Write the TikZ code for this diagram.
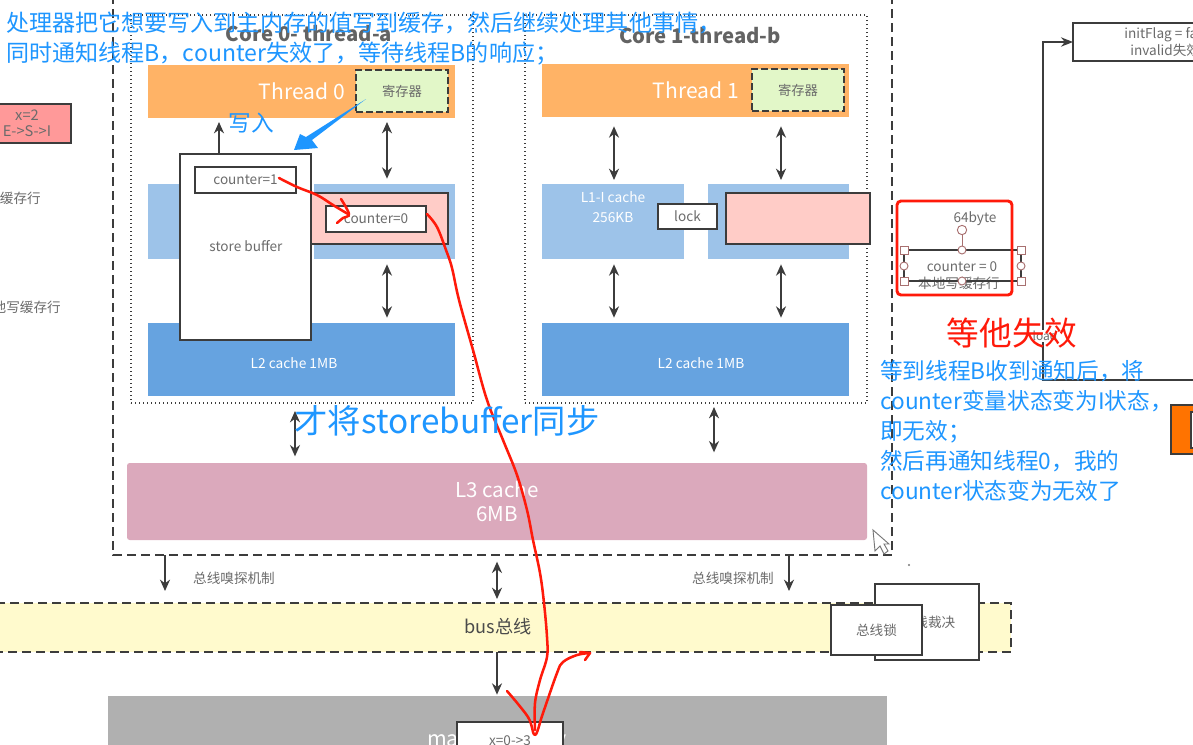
\documentclass[tikz,border=0pt]{standalone}
\usepackage{fontspec}
\setmainfont{Noto Sans CJK SC}
\usetikzlibrary{arrows.meta,calc}
\definecolor{grayt}{HTML}{6B6B6B}
\definecolor{dk}{HTML}{3C3C3C}
\definecolor{orangeb}{HTML}{FFB366}
\definecolor{greenb}{HTML}{E2F7C8}
\definecolor{blue1}{HTML}{9DC3E9}
\definecolor{blue2}{HTML}{66A3E0}
\definecolor{pinkb}{HTML}{FFCCC7}
\definecolor{rose}{HTML}{DBA9BC}
\definecolor{busy}{HTML}{FFFACD}
\definecolor{memg}{HTML}{B0B0B0}
\definecolor{inkb}{HTML}{1E96FF}
\definecolor{inkr}{HTML}{FF1A0A}
\definecolor{handle}{HTML}{A87070}
\newcommand{\fs}[1]{\fontsize{#1}{#1}\selectfont}
% name, x1,y1,x2,y2, style, text
\newcommand{\bx}[7]{\node[inner sep=0pt,outer sep=0pt,align=center,minimum width={(#4-#2)*0.75pt},minimum height={(#5-#3)*0.75pt},#6] (#1) at ({(#2+#4)/2},{(#3+#5)/2}) {#7};}
\tikzset{
  solidbox/.style={draw=dk,line width=1.3pt,fill=white,text=grayt,font=\fs{10.2}},
  regbox/.style={draw=dk,line width=1.4pt,dash pattern=on 5pt off 2.5pt,fill=greenb,text=grayt,font=\fs{10}},
  corebox/.style={draw=dk,line width=1pt,dotted},
  outerline/.style={draw=dk,line width=1.3pt,dash pattern=on 6.5pt off 4pt},
  onehead/.style={draw=dk,line width=1.3pt,-{Stealth[length=8.5pt,width=7.5pt]}},
  twohead/.style={draw=dk,line width=1.3pt,{Stealth[length=8.5pt,width=7.5pt]}-{Stealth[length=8.5pt,width=7.5pt]}},
  lbl/.style={text=grayt,font=\fs{10.2},inner sep=0pt},
  whitel/.style={text=white,font=\fs{10.3},inner sep=0pt},
  redstroke/.style={draw=inkr,line width=1.9pt,line cap=round,line join=round},
  squareh/.style={draw=handle,fill=white,line width=.7pt,minimum size=6pt,inner sep=0pt},
  roundh/.style={draw=handle,fill=white,line width=.7pt,circle,minimum size=6pt,inner sep=0pt},
}
\begin{document}
\begin{tikzpicture}[x=0.75pt,y=-0.75pt]
\useasboundingbox (0,0) rectangle (1193,744);
\clip (0,0) rectangle (1193,744);
\fill[white] (0,0) rectangle (1193,744);
% columns for vertical connectors
\coordinate (cA) at (387,0);
\coordinate (cB) at (614,0);
\coordinate (cC) at (781,0);
\coordinate (cD) at (219,0);
\coordinate (cE) at (295,0);
\coordinate (cF) at (714,0);
\coordinate (cG) at (165,0);
\coordinate (cH) at (497,0);
\coordinate (cI) at (789,0);
% outer frame
\coordinate (oa) at (113,-5);
\coordinate (ob) at (892,-5);
\draw[outerline] (oa) -- (113,555) -- (892,555) -- (ob);
% left box and text
\bx{xbox}{-6}{104}{71}{143}{draw=dk,line width=1.3pt,fill=red!40!white}{}
\node[lbl,font=\fontsize{11}{12}\selectfont,align=center] (xtext) at (27,123) {x=2\\E->S->I};
\node[lbl,anchor=east] (lt1) at (41,198) {缓存行};
\node[lbl,anchor=east] (lt2) at (61,307) {他写缓存行};
% core boxes
\bx{core0}{131}{15}{473}{403}{corebox}{}
\bx{core1}{525}{15}{867}{403}{corebox}{}
\node[text=dk!80,font=\fs{15.2}\bfseries,inner sep=0pt] (t0title) at (309,34) {Core 0- thread-a};
\node[text=dk!80,font=\fs{15.2}\bfseries,inner sep=0pt] (t1title) at (700,36) {Core 1-thread-b};
% threads
\bx{t0}{148}{65}{455}{118}{fill=orangeb}{}
\node[text=white,font=\fs{15.8},inner sep=0pt] (t0l) at (302,91) {Thread 0};
\bx{r0}{356}{70}{448}{112}{regbox}{寄存器}
\bx{t1}{542}{64}{849}{117}{fill=orangeb}{}
\node[text=white,font=\fs{15.8},inner sep=0pt] (t1l) at (696,90) {Thread 1};
\bx{r1}{752}{69}{844}{111}{regbox}{寄存器}
% L1
\bx{l1a}{148}{184}{259}{259}{fill=blue1}{}
\bx{l1b}{314}{184}{455}{259}{fill=blue1}{}
\bx{l1c}{542}{184}{684}{259}{fill=blue1}{}
\node[whitel,align=center,font=\fontsize{10.3}{15}\selectfont] (l1cl) at (613,207) {L1-I cache\\256KB};
\bx{l1d}{708}{184}{849}{259}{fill=blue1}{}
\bx{pink0}{305}{193}{448}{244}{draw=dk,line width=1.3pt,fill=pinkb}{}
\bx{pink1}{726}{193}{870}{244}{draw=dk,line width=1.3pt,fill=pinkb}{}
\bx{lock}{658}{204}{717}{229}{solidbox}{lock}
\bx{c0}{326}{206}{426}{232}{solidbox}{counter=0}
% L2
\bx{l2a}{148}{323}{455}{396}{fill=blue2}{}
\node[whitel] (l2al) at (294,363) {L2 cache 1MB};
\bx{l2b}{542}{323}{849}{396}{fill=blue2}{}
\node[whitel] (l2bl) at (701,363) {L2 cache 1MB};
% store buffer
\bx{sb}{180}{154}{311}{340}{solidbox}{}
\node[lbl] (sbl) at (246,246) {store buffer};
\bx{c1}{195}{167}{296}{193}{solidbox}{counter=1}
% L3
\bx{l3}{127}{463}{867}{540}{fill=rose,rounded corners=2pt}{}
\node[text=white,inner sep=0pt,align=center,font=\fontsize{15.4}{18}\selectfont] (l3l) at (497,501) {L3 cache\\6MB};
% bus
\bx{bus}{-6}{603}{1011}{652}{fill=busy,draw=dk,line width=1.3pt,dash pattern=on 6.5pt off 4pt}{}
\node[text=grayt!70!black,font=\fs{13.6},inner sep=0pt] (busl) at (498,627) {bus总线};
\bx{arb}{875}{584}{979}{660}{solidbox}{}
\node[lbl,fill=white] (arbl) at (928,622) {总线裁决};
\bx{blk}{831}{605}{922}{655}{solidbox}{总线锁}
\node[lbl] (snl) at (234,578) {总线嗅探机制};
\node[lbl] (snr) at (733,578) {总线嗅探机制};
% memory
\bx{mem}{108}{696}{887}{760}{fill=memg}{}
\node[text=white,font=\fs{16},inner sep=0pt] (meml) at (497,741) {main memory};
\bx{mx}{457}{722}{563}{770}{solidbox}{}
\node[lbl] (mxl) at (510,741) {x=0->3};
% vertical connectors
\draw[onehead] (sb.north -| cD) -- ($(t0.south -| cD)+(0,4)$);
\draw[twohead,shorten <=3pt,shorten >=4pt] (t0.south -| cA) -- (l1b.north -| cA);
\draw[twohead,shorten <=4pt,shorten >=4pt] (l1b.south -| cA) -- (l2a.north -| cA);
\draw[twohead,shorten <=7pt,shorten >=3pt] (t1.south -| cB) -- (l1c.north -| cB);
\draw[twohead,shorten <=4pt,shorten >=4pt] (l1c.south -| cB) -- (l2b.north -| cB);
\draw[twohead,shorten <=7pt,shorten >=3pt] (t1.south -| cC) -- (l1d.north -| cC);
\draw[twohead,shorten <=4pt,shorten >=4pt] (l1d.south -| cC) -- (l2b.north -| cC);
\draw[twohead,shorten <=6pt,shorten >=5pt] (core0.south -| cE) -- (l3.north -| cE);
\draw[twohead,shorten <=3pt,shorten >=8pt] (core1.south -| cF) -- (l3.north -| cF);
\coordinate (fb) at (113,555);
\draw[onehead,shorten >=9pt] (fb -| cG) -- (bus.north -| cG);
\draw[onehead,shorten >=9pt] (fb -| cI) -- (bus.north -| cI);
\draw[twohead,shorten <=5pt,shorten >=3pt] (fb -| cH) -- (bus.north -| cH);
\draw[onehead,shorten >=1pt] (bus.south -| cH) -- (mem.north -| cH);
% right part
\bx{init}{1073}{23}{1210}{61}{draw=dk,line width=1.3pt,fill=white}{}
\node[lbl,anchor=west] (i1) at (1124,35) {initFlag = false};
\node[lbl,anchor=west] (i2) at (1130,50) {invalid失效};
\coordinate (lineend) at (1200,380);
\draw[draw=dk,line width=1.2pt,-{Stealth[length=9pt,width=7pt]}] (lineend) -- (1043,380) -- (1043,42) -- (init.west);
\node[text=grayt,fill=white,inner sep=1pt,font=\fs{9}] (loadl) at (1045,336) {load};
\bx{orange}{1171}{405}{1210}{454}{draw=dk,line width=1.3pt,fill=orange!90!red}{}
\bx{orin}{1191}{412}{1210}{448}{draw=dk,line width=1pt,fill=white}{}
% 64byte selection
\node[lbl] (byte) at (975,219) {64byte};
\coordinate (s1) at (904,250); \coordinate (s2) at (1021,250);
\coordinate (s3) at (1021,281); \coordinate (s4) at (904,281);
\node[lbl] (cz) at (962,267) {counter = 0};
\node[lbl] (ll) at (959,283) {本地写缓存行};
\draw[dk,line width=1.2pt] (s1) -- (s2) -- (s3) -- (s4) -- cycle;
\node[squareh] (h1) at (s1) {};
\node[squareh] (h2) at (s2) {};
\node[squareh] (h3) at (s3) {};
\node[squareh] (h4) at (s4) {};
\node[roundh] (h5) at (962,250) {};
\node[roundh] (h6) at (904,266) {};
\node[roundh] (h7) at (1021,266) {};
\node[roundh] (h8) at (962,281) {};
\node[roundh,minimum size=7pt] (h9) at (962,230) {};
\draw[handle,line width=.7pt] (h9) -- (h5);
\bx{redrect}{897}{201}{1012}{295}{draw=inkr,line width=2.2pt,rounded corners=3pt}{}
% cursor and dot
\draw[dk!70,line width=.7pt,fill=white] (873,530) -- (889,544) -- (884,544) -- (888,551) -- (884,554) -- (880,546) -- (875,551) -- cycle;
\fill[dk!70] (909,565) circle (1.2);
% ink: blue arrow
\coordinate (bt) at (366,99);
\coordinate (bh) at (294,150);
\fill[inkb] (bt) -- (312,140) -- (318,148) -- (bh) -- (300,134) -- (306,137) -- cycle;
\node[text=inkb,font=\fs{17},inner sep=0pt] (wr) at (251,123) {写入};
% ink: red strokes
\draw[redstroke] plot[smooth,tension=.6] coordinates {(279,178) (297,187) (317,195) (333,205) (348,214)};
\draw[redstroke] plot[smooth,tension=.6] coordinates {(341,199) (349,214) (343,218) (337,223)};
\draw[redstroke] plot[smooth,tension=.6] coordinates {(427,214) (437,227) (446,250) (452,268) (459,300) (473,350) (487,400) (503,440) (517,475) (527,510) (533,540) (540,573) (544,603) (547,637) (547,657) (540,680) (535,703) (535,730)};
\draw[redstroke] plot[smooth,tension=.6] coordinates {(507,691) (528,717) (535,735) (543,713) (557,673) (563,662) (577,655) (590,653)};
\draw[redstroke] (580,652) -- (590,653) -- (585,660);
% ink: text
\node[text=inkb,inner sep=0pt,anchor=west,align=left,font=\fontsize{17.3}{22.5}\selectfont] (n1) at (6,39) {处理器把它想要写入到主内存的值写到缓存，然后继续处理其他事情，\\同时通知线程B，counter失效了，等待线程B的响应；};
\node[text=inkb,font=\fs{25},inner sep=0pt] (n2) at (447,421) {才将storebuffer同步};
\node[text=inkr,font=\fs{24.5},inner sep=0pt] (n3) at (1012,333) {等他失效};
\node[text=inkb,inner sep=0pt,anchor=west,align=left,font=\fontsize{17}{22.5}\selectfont] (n4) at (880,431) {等到线程B收到通知后，将\\counter变量状态变为I状态，\\即无效；\\然后再通知线程0，我的\\counter状态变为无效了};
\end{tikzpicture}
\end{document}
